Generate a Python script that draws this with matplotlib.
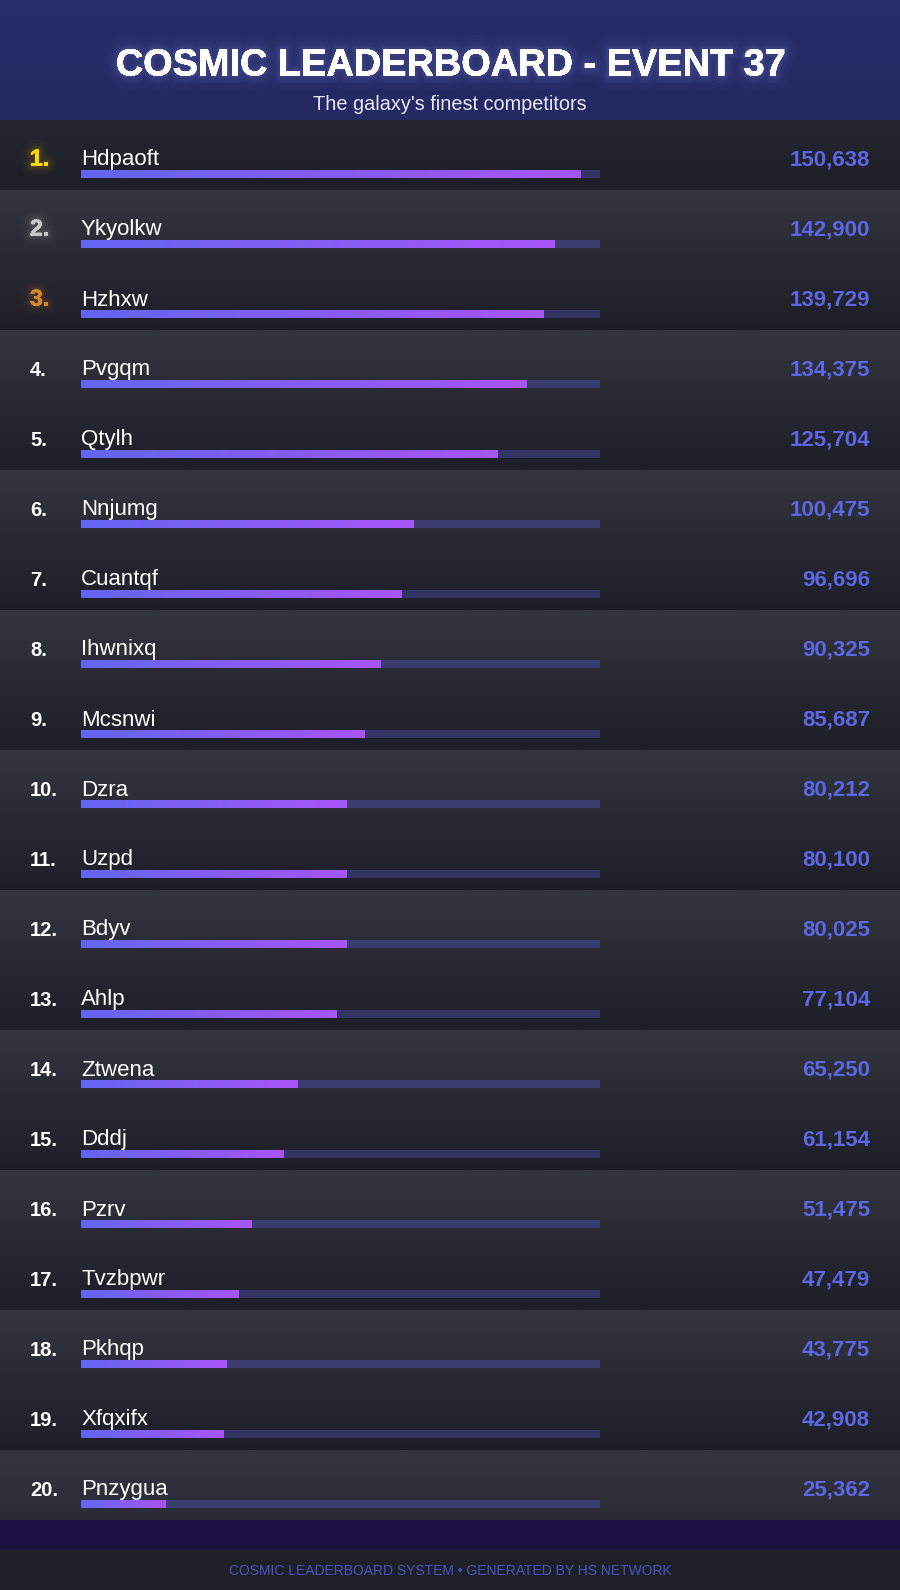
import numpy as np
import matplotlib
matplotlib.use("Agg")
import matplotlib.pyplot as plt
from matplotlib import patheffects as pe
from matplotlib import transforms as mtrans
from matplotlib.colors import LinearSegmentedColormap, to_rgb

plt.rcParams['font.family'] = ['Liberation Sans', 'DejaVu Sans']

# ---------------- data ----------------
title = "COSMIC LEADERBOARD - EVENT 37"
subtitle = "The galaxy's finest competitors"
footer = "COSMIC LEADERBOARD SYSTEM \u2022 GENERATED BY HS NETWORK"
ranks = [f"{i}." for i in range(1, 21)]
names = ["Hdpaoft", "Ykyolkw", "Hzhxw", "Pvgqm", "Qtylh", "Nnjumg", "Cuantqf",
         "Ihwnixq", "Mcsnwi", "Dzra", "Uzpd", "Bdyv", "Ahlp", "Ztwena", "Dddj",
         "Pzrv", "Tvzbpwr", "Pkhqp", "Xfqxifx", "Pnzygua"]
scores = [150638, 142900, 139729, 134375, 125704, 100475, 96696, 90325, 85687,
          80212, 80100, 80025, 77104, 65250, 61154, 51475, 47479, 43775, 42908,
          25362]
rank_colors = {0: "#ffd700", 1: "#c8c8c8", 2: "#d4862e"}

# ---------------- layout (pixels) ----------------
W, H = 900, 1590
HEADER_H = 120
ROW_H = 70
N = len(names)
LIST_BOTTOM = HEADER_H + N * ROW_H  # 1520

fig = plt.figure(figsize=(W / 100, H / 100), dpi=100)
bg = fig.add_axes([0, 0, 1, 1])
bg.set_xlim(0, W)
bg.set_ylim(H, 0)
bg.axis("off")


def vgrad(ax, x0, x1, y0, y1, c_top, c_bot, z=0):
    ct, cb = np.array(to_rgb(c_top)), np.array(to_rgb(c_bot))
    t = np.linspace(0, 1, 128)[:, None, None]
    img = ct[None, None, :] * (1 - t) + cb[None, None, :] * t
    return ax.imshow(img, extent=(x0, x1, y1, y0), aspect="auto", zorder=z,
                     interpolation="bilinear")


def glow(rgb, widths, alphas):
    effs = [pe.withStroke(linewidth=w, foreground=(*rgb, a))
            for w, a in zip(widths, alphas)]
    return effs + [pe.Normal()]


# header
vgrad(bg, 0, W, 0, HEADER_H, "#272c6a", "#242962", z=0)
# list background: repeating 2-row gradient bands
L, D = "#33353f", "#1d1e27"
vgrad(bg, 0, W, HEADER_H, HEADER_H + ROW_H, "#252630", D, z=0)
for k in range(1, N, 2):
    y0 = HEADER_H + k * ROW_H
    y1 = min(y0 + 2 * ROW_H, LIST_BOTTOM)
    cb = D if y1 - y0 == 2 * ROW_H else "#2a2b36"
    vgrad(bg, 0, W, y0, y1, L, cb, z=0)
# bottom bands
bg.add_patch(plt.Rectangle((0, LIST_BOTTOM), W, 30, color="#1a1140", zorder=1, lw=0))
bg.add_patch(plt.Rectangle((0, LIST_BOTTOM + 30), W, H - LIST_BOTTOM - 30,
                           color="#1e2028", zorder=1, lw=0))

# title + subtitle
bg.text(W / 2, 75.5, title, ha="center", va="baseline", color="white",
        fontsize=27.3, fontweight="bold", zorder=5,
        path_effects=glow((0.62, 0.66, 1.0), [20, 15, 11, 7, 4],
                          [0.02, 0.025, 0.035, 0.045, 0.06]))
bg.text(W / 2, 110.5, subtitle, ha="center", va="baseline", color="#e6e8f5",
        fontsize=14.3, zorder=5)
bg.text(W / 2, 1575, footer, ha="center", va="baseline",
        color="#4a52c0", fontsize=10, zorder=5)

# ---------------- bar axes ----------------
BAR_X0, BAR_X1 = 81, 600
ax = fig.add_axes([BAR_X0 / W, 1 - LIST_BOTTOM / H, (BAR_X1 - BAR_X0) / W,
                   (LIST_BOTTOM - HEADER_H) / H])
ax.patch.set_alpha(0)
ax.axis("off")
xmax = max(scores) * 1.04
ypos = np.arange(N) + 54 / ROW_H
bar_h = 8 / ROW_H

ax.barh(ypos, [xmax] * N, height=bar_h, left=0, color="#6366f1", alpha=0.3,
        lw=0, zorder=2)
fills = ax.barh(ypos, scores, height=bar_h, left=0, color="#8b5cf6", lw=0, zorder=3)
cmap = LinearSegmentedColormap.from_list("g", ["#6366f1", "#a855f7"])
grad = np.linspace(0, 1, 256).reshape(1, -1)
for rect, v, y in zip(fills, scores, ypos):
    im = ax.imshow(grad, cmap=cmap, aspect="auto", zorder=4,
                   extent=(0, v, y + bar_h / 2, y - bar_h / 2))
    im.set_clip_path(rect)
ax.set_xlim(0, xmax)
ax.set_ylim(N, 0)

# text rows: x in pixels, y in row units (baseline)
tr = mtrans.blended_transform_factory(bg.transData, ax.transData)
text_y = np.arange(N) + 45.5 / ROW_H
for i in range(N):
    col = rank_colors.get(i, "white")
    peff = None
    fs = 14.5
    if i in rank_colors:
        peff = glow(to_rgb(col), [14, 10, 6, 3], [0.02, 0.035, 0.05, 0.08])
        fs = 16.5
    ax.text(30, text_y[i], ranks[i], transform=tr, ha="left", va="baseline",
            color=col, fontsize=fs, fontweight="bold", zorder=6, path_effects=peff)
    ax.text(BAR_X0, text_y[i], names[i], transform=tr, ha="left", va="baseline",
            color="white", fontsize=16, zorder=6)
    ax.text(870, text_y[i], f"{scores[i]:,}", transform=tr, ha="right", va="baseline",
            color="#5b67e3", fontsize=16, fontweight="bold", zorder=6)

fig.savefig("out.png", dpi=100)
